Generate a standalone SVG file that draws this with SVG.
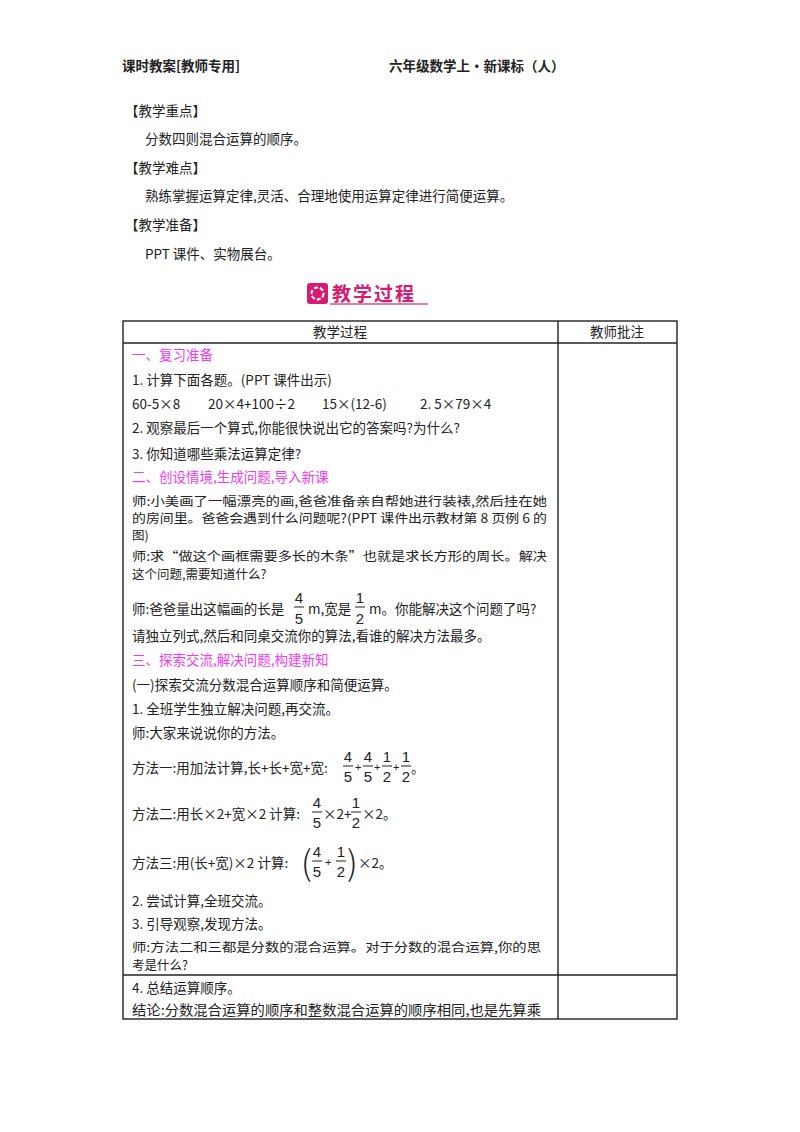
<svg xmlns="http://www.w3.org/2000/svg" width="800" height="1132" viewBox="0 0 800 1132">
<style>
text{font-family:"Noto Sans CJK SC","Liberation Sans",sans-serif;font-size:13.5px;fill:#222;dominant-baseline:central}
.w{font-size:12.5px}
.h{font-weight:bold;font-size:13.5px}
.m{fill:#f03cf0}
.f{font-family:"Liberation Sans",sans-serif;font-size:15px;text-anchor:middle}
.op{font-family:"Liberation Sans",sans-serif;font-size:11px}
.ln{stroke:#222;stroke-width:1.4;fill:none}
.fb{stroke:#222;stroke-width:1}
.c{text-anchor:middle}
</style>
<rect width="800" height="1132" fill="#fff"/>
<g id="header">
<text class="h" x="122" y="65">课时教案[教师专用]</text>
<text class="h" x="389" y="65">六年级数学上・新课标（人）</text>
</g>
<g id="intro">
<text x="125" y="110">【教学重点】</text>
<text x="145" y="138">分数四则混合运算的顺序。</text>
<text x="125" y="167">【教学难点】</text>
<text x="145" y="195">熟练掌握运算定律,灵活、合理地使用运算定律进行简便运算。</text>
<text x="125" y="224">【教学准备】</text>
<text x="145" y="253">PPT 课件、实物展台。</text>
</g>
<g id="banner">
<rect x="307" y="283" width="21" height="21" rx="3" fill="#d81b72"/>
<circle cx="317.5" cy="293.5" r="6" fill="none" stroke="#fff" stroke-width="2" stroke-dasharray="4 2"/>
<text x="332" y="292" style="font-size:19px;font-weight:bold;fill:#d81b72;letter-spacing:2px">教学过程</text>
<line x1="330" y1="304" x2="428" y2="304" stroke="#e67aa8" stroke-width="2"/>
</g>
<g id="table">
<rect class="ln" x="123" y="321" width="554" height="698"/>
<line class="ln" x1="558" y1="321" x2="558" y2="1019"/>
<line class="ln" x1="123" y1="343" x2="677" y2="343"/>
<line class="ln" x1="123" y1="975" x2="677" y2="975"/>
<text class="c" x="340" y="331">教学过程</text>
<text class="c" x="617" y="331">教师批注</text>
</g>
<g id="content">
<text class="m" x="132" y="354">一、复习准备</text>
<text x="132" y="379">1. 计算下面各题。(PPT 课件出示)</text>
<text x="132" y="403">60-5×8</text>
<text x="208" y="403">20×4+100÷2</text>
<text x="322" y="403">15×(12-6)</text>
<text x="420" y="403">2. 5×79×4</text>
<text x="132" y="427">2. 观察最后一个算式,你能很快说出它的答案吗?为什么?</text>
<text x="132" y="453">3. 你知道哪些乘法运算定律?</text>
<text class="m" x="132" y="476">二、创设情境,生成问题,导入新课</text>
<text class="w" x="132" y="500" textLength="415" lengthAdjust="spacingAndGlyphs">师:小美画了一幅漂亮的画,爸爸准备亲自帮她进行装裱,然后挂在她</text>
<text class="w" x="132" y="517" textLength="415" lengthAdjust="spacingAndGlyphs">的房间里。爸爸会遇到什么问题呢?(PPT 课件出示教材第 8 页例 6 的</text>
<text class="w" x="132" y="534">图)</text>
<text class="w" x="132" y="555" textLength="415" lengthAdjust="spacingAndGlyphs">师:求“做这个画框需要多长的木条”也就是求长方形的周长。解决</text>
<text class="w" x="132" y="573">这个问题,需要知道什么?</text>
<text x="132" y="608">师:爸爸量出这幅画的长是</text>
<text class="f" x="299" y="597">4</text><line class="fb" x1="294" y1="607" x2="304" y2="607"/><text class="f" x="299" y="618">5</text>
<text x="308" y="608">m,宽是</text>
<text class="f" x="360" y="597">1</text><line class="fb" x1="355" y1="607" x2="365" y2="607"/><text class="f" x="360" y="618">2</text>
<text x="369" y="608">m。你能解决这个问题了吗?</text>
<text x="132" y="635">请独立列式,然后和同桌交流你的算法,看谁的解决方法最多。</text>
<text class="m" x="132" y="659">三、探索交流,解决问题,构建新知</text>
<text x="132" y="684">(一)探索交流分数混合运算顺序和简便运算。</text>
<text x="132" y="708">1. 全班学生独立解决问题,再交流。</text>
<text x="132" y="732">师:大家来说说你的方法。</text>
<text x="132" y="767">方法一:用加法计算,长+长+宽+宽:</text>
<text class="f" x="348" y="756">4</text><line class="fb" x1="343" y1="766" x2="353" y2="766"/><text class="f" x="348" y="776">5</text>
<text class="op" x="355" y="767">+</text>
<text class="f" x="368" y="756">4</text><line class="fb" x1="363" y1="766" x2="373" y2="766"/><text class="f" x="368" y="776">5</text>
<text class="op" x="374" y="767">+</text>
<text class="f" x="387" y="756">1</text><line class="fb" x1="382" y1="766" x2="392" y2="766"/><text class="f" x="387" y="776">2</text>
<text class="op" x="393" y="767">+</text>
<text class="f" x="406" y="756">1</text><line class="fb" x1="401" y1="766" x2="411" y2="766"/><text class="f" x="406" y="776">2</text>
<text x="411" y="767">。</text>
<text x="132" y="813">方法二:用长×2+宽×2 计算:</text>
<text class="f" x="317" y="802">4</text><line class="fb" x1="312" y1="812" x2="322" y2="812"/><text class="f" x="317" y="822">5</text>
<text x="323" y="813">×2+</text>
<text class="f" x="356" y="802">1</text><line class="fb" x1="351" y1="812" x2="361" y2="812"/><text class="f" x="356" y="822">2</text>
<text x="362" y="813">×2。</text>
<text x="132" y="862">方法三:用(长+宽)×2 计算:</text>
<text x="301" y="860" style="font-size:34px;font-weight:300">(</text>
<text class="f" x="317" y="851">4</text><line class="fb" x1="312" y1="861" x2="322" y2="861"/><text class="f" x="317" y="871">5</text>
<text class="op" x="325" y="862">+</text>
<text class="f" x="341" y="851">1</text><line class="fb" x1="336" y1="861" x2="346" y2="861"/><text class="f" x="341" y="871">2</text>
<text x="347" y="860" style="font-size:34px;font-weight:300">)</text>
<text x="358" y="862">×2。</text>
<text x="132" y="900">2. 尝试计算,全班交流。</text>
<text x="132" y="923">3. 引导观察,发现方法。</text>
<text class="w" x="132" y="946" textLength="409" lengthAdjust="spacingAndGlyphs">师:方法二和三都是分数的混合运算。对于分数的混合运算,你的思</text>
<text class="w" x="132" y="964">考是什么?</text>
<text x="132" y="987">4. 总结运算顺序。</text>
<text x="132" y="1009" textLength="409" lengthAdjust="spacingAndGlyphs">结论:分数混合运算的顺序和整数混合运算的顺序相同,也是先算乘</text>
</g>
</svg>
